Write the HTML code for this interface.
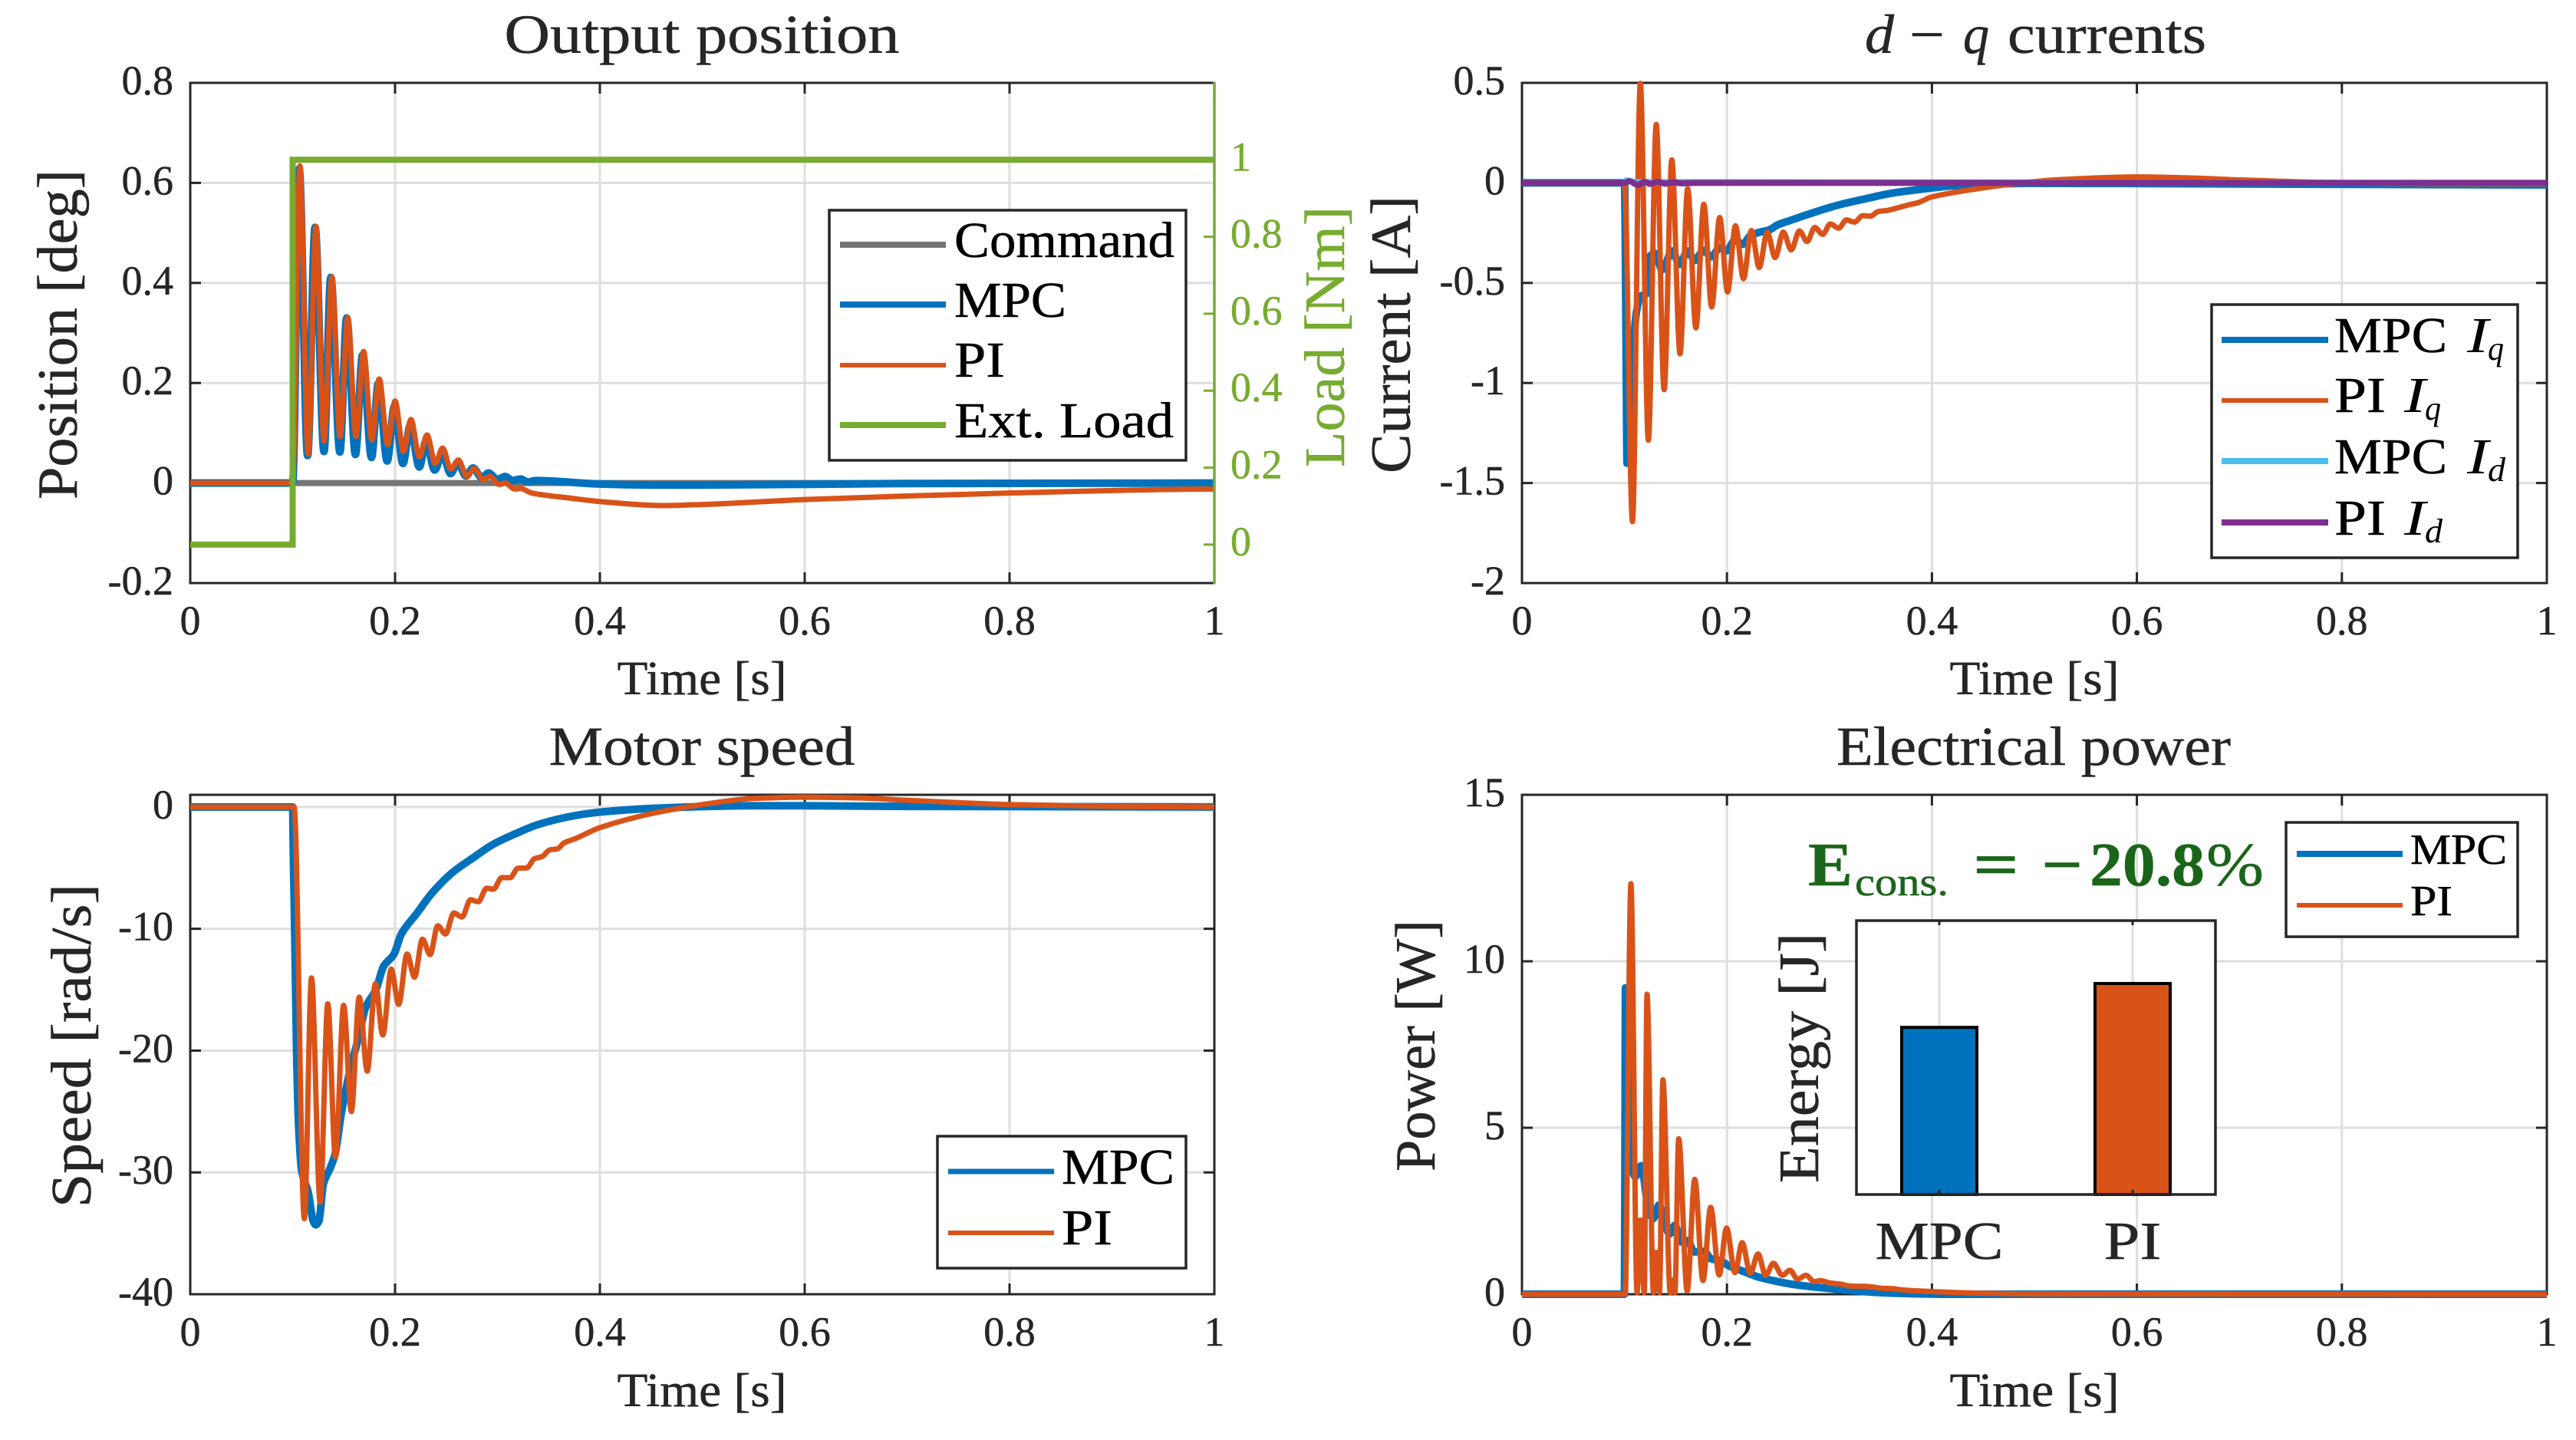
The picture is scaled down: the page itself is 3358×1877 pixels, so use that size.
<!DOCTYPE html>
<html lang="en">
<head>
<meta charset="utf-8">
<title>MPC vs PI motor control comparison</title>
<style>
html,body{margin:0;padding:0;background:#fff;width:3358px;height:1877px;overflow:hidden}
svg{display:block}
text{font-family:"Liberation Serif","DejaVu Serif",serif;fill:#262626}
</style>
</head>
<body>
<svg id="fig" xmlns="http://www.w3.org/2000/svg" width="3358" height="1877" viewBox="0 0 3358 1877"></svg>
<script>
// ---------- shared ticks ----------
const timeTicks = [0, 0.2, 0.4, 0.6, 0.8, 1];
const timeTickLabels = ['0', '0.2', '0.4', '0.6', '0.8', '1'];

// ---------- output position ----------
const posTicks = [-0.2, 0, 0.2, 0.4, 0.6, 0.8];
const posTickLabels = ['-0.2', '0', '0.2', '0.4', '0.6', '0.8'];
const loadTicks = [0, 0.2, 0.4, 0.6, 0.8, 1];
const loadTickLabels = ['0', '0.2', '0.4', '0.6', '0.8', '1'];
const commandTime = [0, 1];
const commandValue = [0, 0];
const loadTime = [0, 0.1, 0.1, 1];
const loadValue = [0, 0, 1, 1];
const posTimeMpc = [0, 0.1, 0.1064, 0.1146, 0.1219, 0.1306, 0.1373, 0.1461, 0.1528, 0.1613, 0.1683, 0.177, 0.1837, 0.1923, 0.1993, 0.2077, 0.2148, 0.2237, 0.2302, 0.2387, 0.2462, 0.2542, 0.2612, 0.2692, 0.2762, 0.2849, 0.2912, 0.2999, 0.3074, 0.3149, 0.3224, 0.3298, 0.3373, 0.4, 0.45, 0.5, 0.7, 1];
const posValueMpc = [0, 0, 0.628, 0.055, 0.511, 0.063, 0.411, 0.062, 0.33, 0.057, 0.256, 0.051, 0.199, 0.044, 0.153, 0.039, 0.115, 0.032, 0.084, 0.026, 0.059, 0.019, 0.041, 0.014, 0.03, 0.01, 0.02, 0.007, 0.013, 0.005, 0.008, 0.002, 0.005, -0.002, -0.004, -0.004, -0.001, 0];
const posTimePi = [0, 0.1, 0.1071, 0.1151, 0.1228, 0.1306, 0.1383, 0.1463, 0.1538, 0.1618, 0.1693, 0.1773, 0.1845, 0.1928, 0.2, 0.2082, 0.2155, 0.2237, 0.2312, 0.2392, 0.2464, 0.2544, 0.2619, 0.2699, 0.2772, 0.2861, 0.2924, 0.3019, 0.3074, 0.3169, 0.3224, 0.3336, 0.37, 0.4, 0.46, 0.5, 0.6, 0.7, 0.8, 0.9, 1];
const posValuePi = [0, 0, 0.634, 0.058, 0.513, 0.084, 0.412, 0.093, 0.331, 0.093, 0.263, 0.086, 0.208, 0.077, 0.164, 0.063, 0.127, 0.052, 0.096, 0.039, 0.07, 0.028, 0.046, 0.013, 0.029, 0.007, 0.013, -0.003, 0, -0.012, -0.011, -0.02, -0.03, -0.037, -0.045, -0.043, -0.033, -0.026, -0.02, -0.015, -0.012];

// ---------- d-q currents ----------
const curTicks = [-2, -1.5, -1, -0.5, 0, 0.5];
const curTickLabels = ['-2', '-1.5', '-1', '-0.5', '0', '0.5'];
const iqTimeMpc = [0, 0.1, 0.1018, 0.1025, 0.1048, 0.108, 0.1118, 0.1155, 0.1218, 0.1243, 0.1297, 0.1367, 0.1467, 0.1537, 0.1617, 0.1686, 0.1772, 0.1847, 0.1929, 0.1996, 0.2078, 0.2153, 0.2228, 0.2303, 0.2416, 0.249, 0.2615, 0.274, 0.2864, 0.2989, 0.3114, 0.3363, 0.3613, 0.3862, 0.42, 0.46, 0.5, 0.7, 1];
const iqValueMpc = [0, 0, -0.946, -1.401, -1.386, -0.87, -0.643, -0.567, -0.552, -0.37, -0.352, -0.434, -0.34, -0.408, -0.34, -0.388, -0.337, -0.37, -0.325, -0.34, -0.287, -0.307, -0.264, -0.249, -0.234, -0.211, -0.188, -0.166, -0.145, -0.125, -0.107, -0.078, -0.051, -0.034, -0.015, -0.006, -0.002, -0.005, -0.01];
const iqTimePi = [0, 0.1, 0.1078, 0.1155, 0.1233, 0.131, 0.1387, 0.1462, 0.1542, 0.1617, 0.1697, 0.1774, 0.1851, 0.1929, 0.2006, 0.2083, 0.2161, 0.2238, 0.2315, 0.2393, 0.247, 0.255, 0.2627, 0.2707, 0.2782, 0.2857, 0.2934, 0.3009, 0.3089, 0.3166, 0.3243, 0.3326, 0.3401, 0.3476, 0.3558, 0.3663, 0.3787, 0.3862, 0.4, 0.45, 0.48, 0.52, 0.6, 0.65, 0.7, 0.8, 0.9, 1];
const iqValuePi = [0, 0, -1.693, 0.497, -1.286, 0.292, -1.033, 0.115, -0.854, -0.029, -0.725, -0.107, -0.62, -0.173, -0.545, -0.214, -0.479, -0.238, -0.423, -0.247, -0.373, -0.246, -0.335, -0.24, -0.293, -0.223, -0.257, -0.205, -0.226, -0.185, -0.196, -0.164, -0.166, -0.143, -0.138, -0.125, -0.108, -0.099, -0.07, -0.025, -0.005, 0.015, 0.03, 0.025, 0.015, 0, -0.005, -0.005];
const idTimeMpc = [0, 0.1, 0.102, 0.11, 1];
const idValueMpc = [0, 0, 0.012, 0.004, 0];
const idTimePi = [0, 0.1, 0.105, 0.113, 0.12, 0.125, 0.132, 0.14, 0.147, 0.155, 0.17, 1];
const idValuePi = [0, 0, 0.008, -0.01, 0.005, -0.005, 0.006, -0.004, 0.004, -0.002, 0, 0];

// ---------- motor speed ----------
const speedTicks = [-40, -30, -20, -10, 0];
const speedTickLabels = ['-40', '-30', '-20', '-10', '0'];
const speedTimeMpc = [0, 0.1, 0.1006, 0.1021, 0.1039, 0.1059, 0.1089, 0.1151, 0.1201, 0.1226, 0.1256, 0.1301, 0.1364, 0.1414, 0.1476, 0.1563, 0.1638, 0.1713, 0.1813, 0.1888, 0.1988, 0.2063, 0.2212, 0.2362, 0.2562, 0.2762, 0.2961, 0.3161, 0.3411, 0.376, 0.4, 0.45, 0.5, 0.55, 0.6, 0.7, 1];
const speedValueMpc = [0, 0, -3.44, -10.67, -20.3, -26.3, -29.9, -31.6, -34, -34.3, -34, -30.9, -29.7, -28.5, -25.1, -21.5, -19.1, -16.45, -15, -13.08, -12.1, -10.4, -8.74, -7.05, -5.37, -4.17, -3.05, -2.25, -1.4, -0.7, -0.42, -0.12, 0.03, 0.1, 0.1, 0.05, 0];
const speedTimePi = [0, 0.1014, 0.1114, 0.1184, 0.1268, 0.1343, 0.1418, 0.1498, 0.1573, 0.165, 0.1728, 0.1808, 0.188, 0.1963, 0.2035, 0.2117, 0.219, 0.2267, 0.2342, 0.2417, 0.2492, 0.2574, 0.2654, 0.2737, 0.2812, 0.2894, 0.2961, 0.3041, 0.3124, 0.3199, 0.3286, 0.3361, 0.3436, 0.3511, 0.3586, 0.3648, 0.376, 0.4, 0.45, 0.5, 0.55, 0.6, 0.65, 0.7, 0.8, 0.9, 1];
const speedValuePi = [0, 0, -33.79, -14.04, -32.44, -16.16, -28.73, -16.28, -25, -15.61, -21.68, -14.52, -18.72, -13.32, -16.21, -12.07, -13.97, -10.86, -12.12, -9.75, -10.43, -8.7, -9.03, -7.61, -7.78, -6.67, -6.75, -5.8, -5.8, -5.03, -5, -4.24, -4.07, -3.52, -3.44, -2.96, -2.6, -1.7, -0.55, 0.2, 0.7, 0.8, 0.75, 0.55, 0.2, 0.05, 0];

// ---------- electrical power ----------
const powerTicks = [0, 5, 10, 15];
const powerTickLabels = ['0', '5', '10', '15'];
const powerTimeMpc = [0, 0.1, 0.1005, 0.101, 0.1023, 0.1043, 0.1068, 0.1105, 0.1163, 0.123, 0.128, 0.1337, 0.1392, 0.1442, 0.1492, 0.1555, 0.1617, 0.1679, 0.1779, 0.1841, 0.1941, 0.2016, 0.2141, 0.2315, 0.2465, 0.2615, 0.2814, 0.3014, 0.3213, 0.3463, 0.3713, 0.42, 1];
const powerValueMpc = [0, 0, 4, 9.2, 9.2, 5.85, 3.94, 3.53, 3.86, 2.64, 2.27, 2.68, 2.1, 1.81, 2.07, 1.57, 1.61, 1.27, 1.29, 1.07, 1, 0.86, 0.71, 0.51, 0.4, 0.31, 0.23, 0.17, 0.11, 0.055, 0.025, 0, 0];
const powerTimePi = [0, 0.1006, 0.1063, 0.1123, 0.1155, 0.1193, 0.122, 0.1283, 0.131, 0.1342, 0.1375, 0.1447, 0.1467, 0.1492, 0.1529, 0.1612, 0.1686, 0.1766, 0.1841, 0.1924, 0.1996, 0.2078, 0.2148, 0.2228, 0.2303, 0.2378, 0.2453, 0.254, 0.2615, 0.269, 0.2769, 0.2852, 0.2914, 0.3002, 0.3114, 0.3189, 0.3263, 0.3338, 0.3413, 0.3513, 0.3613, 0.3713, 0.4, 0.45, 0.5, 1];
const powerValuePi = [0, 0, 12.33, 0.05, 2.23, 0.05, 9.01, 0.05, 1.26, 0.05, 6.44, 0.05, 0.43, 0.05, 4.67, 0.1, 3.45, 0.41, 2.61, 0.58, 1.99, 0.65, 1.55, 0.63, 1.21, 0.57, 0.93, 0.57, 0.72, 0.45, 0.57, 0.38, 0.41, 0.34, 0.3, 0.25, 0.24, 0.24, 0.22, 0.18, 0.17, 0.13, 0.08, 0.03, 0.01, 0];

// ---------- energy inset ----------
const energyCategories = ['MPC', 'PI'];
const energyValues = [0.792, 1];

// ---------- helpers ----------
const svg = document.getElementById('fig');
const NS = 'http://www.w3.org/2000/svg';
const INK = '#262626', GRID = '#dedede', BLUE = '#0072bd', ORANGE = '#d95319', GREEN = '#77ac30', GRAY = '#757575', SKY = '#4dbeee', PURPLE = '#7e2f8e';
const MPC_W = 10, PI_W = 7;

function scale(d0, d1, r0, r1) {
  return function (v) { return r0 + (v - d0) * (r1 - r0) / (d1 - d0); };
}
function mk(tag, attrs, parent) {
  const el = document.createElementNS(NS, tag);
  for (const k in attrs) el.setAttribute(k, attrs[k]);
  (parent || svg).appendChild(el);
  return el;
}
function line(name, x1, y1, x2, y2, stroke, w, parent) {
  const el = mk('line', { x1: x1, y1: y1, x2: x2, y2: y2, stroke: stroke, 'stroke-width': w }, parent);
  
  
  return el;
}
function rect(name, x, y, w, h, fill, stroke, sw, parent) {
  const el = mk('rect', { x: x, y: y, width: w, height: h, fill: fill, stroke: stroke, 'stroke-width': sw }, parent);
  
  
  return el;
}
function text(name, x, y, str, o) {
  o = o || {};
  const a = { x: x, y: y, 'font-size': o.size || 54, 'text-anchor': o.anchor || 'start' };
  if (o.fill) a.style = 'fill:' + o.fill;
  if (o.weight) a['font-weight'] = o.weight;
  if (o.italic) a['font-style'] = 'italic';
  if (o.len) { a.textLength = o.len; a.lengthAdjust = 'spacingAndGlyphs'; }
  if (o.rot) a.transform = 'rotate(-90 ' + x + ' ' + y + ')';
  a.stroke = o.fill || INK;
  a['stroke-width'] = o.sw === undefined ? 0.5 : o.sw;
  const el = mk('text', a);
  el.textContent = str;
  
  
  return el;
}
// smooth monotone path through the data points
function curve(ts, vs, X, Y) {
  const n = ts.length, xs = ts.map(X), ys = vs.map(Y), m = new Array(n).fill(0);
  for (let i = 1; i < n - 1; i++) {
    const h0 = xs[i] - xs[i - 1], h1 = xs[i + 1] - xs[i];
    if (h0 <= 0 || h1 <= 0) continue;
    const s0 = (ys[i] - ys[i - 1]) / h0, s1 = (ys[i + 1] - ys[i]) / h1;
    if (s0 * s1 > 0) m[i] = 2 * s0 * s1 / (s0 + s1);
  }
  let d = 'M' + xs[0].toFixed(2) + ' ' + ys[0].toFixed(2);
  for (let i = 1; i < n; i++) {
    const h = (xs[i] - xs[i - 1]) / 3;
    d += 'C' + (xs[i - 1] + h).toFixed(2) + ' ' + (ys[i - 1] + m[i - 1] * h).toFixed(2) + ' ' +
      (xs[i] - h).toFixed(2) + ' ' + (ys[i] - m[i] * h).toFixed(2) + ' ' + xs[i].toFixed(2) + ' ' + ys[i].toFixed(2);
  }
  return d;
}
function series(name, ts, vs, X, Y, color, w, straight) {
  const d = straight
    ? ts.map(function (t, i) { return (i ? 'L' : 'M') + X(t).toFixed(2) + ' ' + Y(vs[i]).toFixed(2); }).join('')
    : curve(ts, vs, X, Y);
  const el = mk('path', { d: d, fill: 'none', stroke: color, 'stroke-width': w, 'stroke-linejoin': straight ? 'miter' : 'round' });
  
  
  return el;
}
function axes(prefix, box, X, Y, yTicks, yLabels, xLabelY, greenRight) {
  const g = mk('g', {});
  
  
  timeTicks.forEach(function (t) {
    if (t > 0 && t < 1) line(prefix + '-x-grid', X(t), box.t, X(t), box.b, GRID, 3, g);
  });
  yTicks.forEach(function (v) {
    if (Y(v) > box.t + 1 && Y(v) < box.b - 1) line(prefix + '-y-grid', box.l, Y(v), box.r, Y(v), GRID, 3, g);
  });
  line(prefix + '-top-border', box.l - 1.5, box.t, box.r + 1.5, box.t, INK, 3, g);
  line(prefix + '-bottom-border', box.l - 1.5, box.b, box.r + 1.5, box.b, INK, 3, g);
  line(prefix + '-left-border', box.l, box.t, box.l, box.b, INK, 3, g);
  if (!greenRight) line(prefix + '-right-border', box.r, box.t, box.r, box.b, INK, 3, g);
  timeTicks.forEach(function (t, i) {
    if (t > 0 && t < 1) {
      line(prefix + '-x-tick', X(t), box.t, X(t), box.t + 14, INK, 3, g);
      line(prefix + '-x-tick', X(t), box.b, X(t), box.b - 14, INK, 3, g);
    }
    text(prefix + '-x-tick-label', X(t), xLabelY, timeTickLabels[i], { anchor: 'middle', size: 54 });
  });
  yTicks.forEach(function (v, i) {
    if (Y(v) > box.t + 1 && Y(v) < box.b - 1) {
      line(prefix + '-y-tick', box.l, Y(v), box.l + 14, Y(v), INK, 3, g);
      if (!greenRight) line(prefix + '-y-tick', box.r, Y(v), box.r - 14, Y(v), INK, 3, g);
    }
    text(prefix + '-y-tick-label', box.l - 22, Y(v) + 15, yLabels[i], { anchor: 'end', size: 54 });
  });
}
function legendBox(name, x, y, w, h) {
  return rect(name, x, y, w, h, '#fff', INK, 3.5);
}
function legendRow(name, x1, x2, y, color, w) {
  line(name + '-swatch', x1, y, x2, y, color, w);
}
const XL = 62, YL = 74;

// ---------- panel boxes ----------
const boxPos = { l: 248, r: 1583, t: 108, b: 760 };
const boxCur = { l: 1984, r: 3320, t: 108, b: 760 };
const boxSpeed = { l: 248, r: 1583, t: 1036, b: 1687 };
const boxPower = { l: 1984, r: 3320, t: 1036, b: 1687 };

// ---------- panel 1: output position ----------
const x1 = scale(0, 1, boxPos.l, boxPos.r);
const y1 = scale(-0.2, 0.8, boxPos.b, boxPos.t);
const yLoad = scale(-0.1, 1.2, boxPos.b, boxPos.t);
axes('position', boxPos, x1, y1, posTicks, posTickLabels, 827, true);
series('command-line', commandTime, commandValue, x1, y1, GRAY, 8, true);
series('position-mpc-line', posTimeMpc, posValueMpc, x1, y1, BLUE, MPC_W);
series('position-pi-line', posTimePi, posValuePi, x1, y1, ORANGE, PI_W);
series('external-load-line', loadTime, loadValue, x1, yLoad, GREEN, 8, true);
line('load-axis-line', boxPos.r, boxPos.t - 1.5, boxPos.r, boxPos.b + 1.5, GREEN, 3.5);
loadTicks.forEach(function (v, i) {
  line('load-tick', boxPos.r, yLoad(v), boxPos.r - 14, yLoad(v), GREEN, 3);
  text('load-tick-label', 1604, yLoad(v) + 14, loadTickLabels[i], { fill: GREEN, size: 54 });
});
text('position-title', 915, 69, 'Output position', { anchor: 'middle', size: 72, len: 515 });
text('position-x-axis-title', 915, 905, 'Time [s]', { anchor: 'middle', size: XL, len: 221 });
text('position-y-axis-title', 100, 436, 'Position [deg]', { anchor: 'middle', size: YL, len: 430, rot: true });
text('load-y-axis-title', 1752, 439, 'Load [Nm]', { anchor: 'middle', size: YL, len: 340, rot: true, fill: GREEN });
legendBox('position-legend', 1081, 274, 465, 326);
legendRow('legend-command', 1095, 1233, 319, GRAY, 8);
legendRow('legend-mpc', 1095, 1233, 397, BLUE, 8);
legendRow('legend-pi', 1095, 1233, 476, ORANGE, 6);
legendRow('legend-load', 1095, 1233, 554, GREEN, 8);
text('legend-command-label', 1244, 335, 'Command', { size: 66, len: 287, fill: '#000' });
text('legend-mpc-label', 1244, 413, 'MPC', { size: 66, len: 146, fill: '#000' });
text('legend-pi-label', 1244, 491, 'PI', { size: 66, len: 66, fill: '#000' });
text('legend-load-label', 1244, 570, 'Ext. Load', { size: 66, len: 286, fill: '#000' });

// ---------- panel 2: currents ----------
const x2 = scale(0, 1, boxCur.l, boxCur.r);
const y2 = scale(-2, 0.5, boxCur.b, boxCur.t);
axes('current', boxCur, x2, y2, curTicks, curTickLabels, 827, false);
series('current-mpc-iq-line', iqTimeMpc, iqValueMpc, x2, y2, BLUE, MPC_W);
series('current-pi-iq-line', iqTimePi, iqValuePi, x2, y2, ORANGE, PI_W);
series('current-mpc-id-line', idTimeMpc, idValueMpc, x2, y2, SKY, 8);
series('current-pi-id-line', idTimePi, idValuePi, x2, y2, PURPLE, 8);
text('current-title-d', 2431, 69, 'd', { size: 72, italic: true, len: 38 });
text('current-title-minus', 2512, 69, '\u2212', { size: 72, anchor: 'middle', len: 46 });
text('current-title-q', 2559, 69, 'q', { size: 72, italic: true, len: 34 });
text('current-title-word', 2617, 69, 'currents', { size: 72, len: 259 });
text('current-x-axis-title', 2652, 905, 'Time [s]', { anchor: 'middle', size: XL, len: 221 });
text('current-y-axis-title', 1838, 436, 'Current [A]', { anchor: 'middle', size: YL, len: 362, rot: true });
legendBox('current-legend', 2883, 397, 399, 330);
legendRow('legend-mpc-iq', 2896, 3035, 443, BLUE, 8);
legendRow('legend-pi-iq', 2896, 3035, 522, ORANGE, 6);
legendRow('legend-mpc-id', 2896, 3035, 601, SKY, 8);
legendRow('legend-pi-id', 2896, 3035, 681, PURPLE, 8);
text('legend-mpc-iq-label', 3043, 459, 'MPC', { size: 66, len: 147, fill: '#000' });
text('legend-mpc-iq-symbol', 3216, 459, 'I', { size: 66, italic: true, fill: '#000', len: 28, sw: 0 });
text('legend-mpc-iq-sub', 3243, 469, 'q', { size: 44, italic: true, fill: '#000', len: 21, sw: 0 });
text('legend-pi-iq-label', 3043, 537, 'PI', { size: 66, len: 67, fill: '#000' });
text('legend-pi-iq-symbol', 3134, 537, 'I', { size: 66, italic: true, fill: '#000', len: 28, sw: 0 });
text('legend-pi-iq-sub', 3161, 547, 'q', { size: 44, italic: true, fill: '#000', len: 21, sw: 0 });
text('legend-mpc-id-label', 3043, 617, 'MPC', { size: 66, len: 147, fill: '#000' });
text('legend-mpc-id-symbol', 3216, 617, 'I', { size: 66, italic: true, fill: '#000', len: 28, sw: 0 });
text('legend-mpc-id-sub', 3243, 627, 'd', { size: 44, italic: true, fill: '#000', len: 23, sw: 0 });
text('legend-pi-id-label', 3043, 697, 'PI', { size: 66, len: 67, fill: '#000' });
text('legend-pi-id-symbol', 3134, 697, 'I', { size: 66, italic: true, fill: '#000', len: 28, sw: 0 });
text('legend-pi-id-sub', 3161, 707, 'd', { size: 44, italic: true, fill: '#000', len: 23, sw: 0 });

// ---------- panel 3: speed ----------
const x3 = scale(0, 1, boxSpeed.l, boxSpeed.r);
const y3 = scale(-40, 1, boxSpeed.b, boxSpeed.t);
axes('speed', boxSpeed, x3, y3, speedTicks, speedTickLabels, 1754, false);
series('speed-mpc-line', speedTimeMpc, speedValueMpc, x3, y3, BLUE, MPC_W);
series('speed-pi-line', speedTimePi, speedValuePi, x3, y3, ORANGE, PI_W);
text('speed-title', 915, 997, 'Motor speed', { anchor: 'middle', size: 72, len: 399 });
text('speed-x-axis-title', 915, 1833, 'Time [s]', { anchor: 'middle', size: XL, len: 221 });
text('speed-y-axis-title', 118, 1363, 'Speed [rad/s]', { anchor: 'middle', size: YL, len: 422, rot: true });
legendBox('speed-legend', 1222, 1481, 324, 172);
legendRow('legend-speed-mpc', 1236, 1374, 1527, BLUE, 7);
legendRow('legend-speed-pi', 1236, 1374, 1607, ORANGE, 6);
text('legend-speed-mpc-label', 1384, 1543, 'MPC', { size: 66, len: 147, fill: '#000' });
text('legend-speed-pi-label', 1384, 1622, 'PI', { size: 66, len: 66, fill: '#000' });

// ---------- panel 4: power ----------
const x4 = scale(0, 1, boxPower.l, boxPower.r);
const y4 = scale(0, 15, boxPower.b, boxPower.t);
axes('power', boxPower, x4, y4, powerTicks, powerTickLabels, 1754, false);
series('power-mpc-line', powerTimeMpc, powerValueMpc, x4, y4, BLUE, MPC_W);
series('power-pi-line', powerTimePi, powerValuePi, x4, y4, ORANGE, PI_W);
text('power-title', 2651, 997, 'Electrical power', { anchor: 'middle', size: 72, len: 514 });
text('power-x-axis-title', 2652, 1833, 'Time [s]', { anchor: 'middle', size: XL, len: 221 });
text('power-y-axis-title', 1870, 1363, 'Power [W]', { anchor: 'middle', size: YL, len: 328, rot: true });
legendBox('power-legend', 2980, 1072, 302, 149);
legendRow('legend-power-mpc', 2994, 3132, 1113, BLUE, 8);
legendRow('legend-power-pi', 2994, 3132, 1180, ORANGE, 6);
text('legend-power-mpc-label', 3142, 1126, 'MPC', { size: 56, len: 126, fill: '#000' });
text('legend-power-pi-label', 3142, 1193, 'PI', { size: 56, len: 55, fill: '#000' });

// energy annotation
const DG = '#1b651b';
text('energy-saving-e', 2357, 1154, 'E', { size: 80, weight: 'bold', fill: DG, len: 58 });
text('energy-saving-subscript', 2418, 1167, 'cons.', { size: 52, fill: DG, len: 122 });
text('energy-saving-equals', 2602, 1154, '=', { size: 80, anchor: 'middle', fill: DG, len: 60, weight: 'bold' });
text('energy-saving-minus', 2688, 1154, '\u2212', { size: 80, anchor: 'middle', fill: DG, len: 54, weight: 'bold' });
text('energy-saving-value', 2724, 1154, '20.8', { size: 80, weight: 'bold', fill: DG, len: 150 });
text('energy-saving-percent', 2876, 1154, '%', { size: 80, fill: DG, len: 75 });

// inset bar chart
const boxInset = { l: 2420, r: 2888, t: 1200, b: 1557 };
const insetX = [2528, 2780];
const insetY = scale(0, 1.298, boxInset.b, boxInset.t);
rect('energy-inset-background', boxInset.l, boxInset.t, boxInset.r - boxInset.l, boxInset.b - boxInset.t, '#fff', 'none', 0);
insetX.forEach(function (cx) {
  line('energy-inset-grid', cx, boxInset.t, cx, boxInset.b, GRID, 3);
});
const barColors = [BLUE, ORANGE];
energyValues.forEach(function (v, i) {
  const bar = rect('energy-bar-' + energyCategories[i].toLowerCase(), insetX[i] - 49, insetY(v), 98, insetY(0) - insetY(v), barColors[i], '#000', 4);
  bar.setAttribute('data-value', v);
  text('energy-category-label', insetX[i], 1641, energyCategories[i], { anchor: 'middle', size: 70, len: i === 0 ? 167 : 75 });
});
rect('energy-inset-frame', boxInset.l, boxInset.t, boxInset.r - boxInset.l, boxInset.b - boxInset.t, 'none', INK, 3.5);
insetX.forEach(function (cx) {
  line('energy-inset-tick', cx, boxInset.t, cx, boxInset.t + 6, INK, 3);
  line('energy-inset-tick', cx, boxInset.b, cx, boxInset.b - 6, INK, 3);
});
text('energy-y-axis-title', 2370, 1379, 'Energy [J]', { anchor: 'middle', size: YL, len: 326, rot: true });
</script>
</body>
</html>
